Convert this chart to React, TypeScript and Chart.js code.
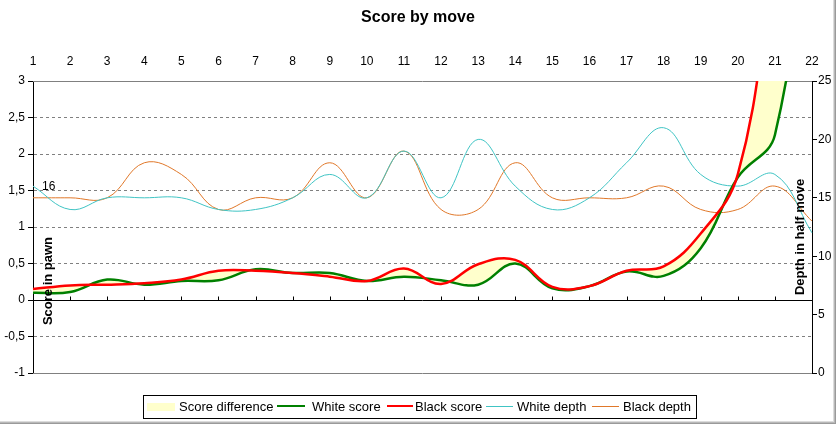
import { useEffect, useRef } from "react";
import { Chart, registerables } from "chart.js";

Chart.register(...registerables);

const FONT = "Arial, 'Liberation Sans', sans-serif";

// one entry per move
const moves = ["1", "2", "3", "4", "5", "6", "7", "8", "9", "10", "11", "12", "13", "14", "15", "16", "17", "18", "19", "20", "21", "22"];
const whiteScore = [0.1, 0.11, 0.28, 0.21, 0.26, 0.27, 0.42, 0.37, 0.37, 0.26, 0.32, 0.27, 0.21, 0.5, 0.16, 0.19, 0.39, 0.33, 0.71, 1.68, 2.26, 6];
const blackScore = [0.15, 0.2, 0.21, 0.23, 0.28, 0.4, 0.4, 0.37, 0.32, 0.26, 0.43, 0.22, 0.49, 0.55, 0.18, 0.19, 0.4, 0.46, 0.91, 1.72, 4.6, 7];
const whiteDepth = [16, 14, 15, 15, 15, 14, 14, 15, 17, 15, 19, 15, 20, 16, 14, 15, 18, 21, 17, 16, 17, 12];
const blackDepth = [15, 15, 15, 18, 17, 14, 15, 15, 18, 15, 19, 14, 14, 18, 15, 15, 15, 16, 14, 14, 16, 13];

const GREEN = "#008000";
const RED = "#FF0000";
const CYAN = "#40C4C4";
const ORANGE = "#E0782A";
const DIFF = "#FFFFCC";

const decor = {
  id: "decor",
  beforeDatasetsDraw(chart: Chart) {
    const { ctx, chartArea: a, scales } = chart;
    const y0 = Math.round(scales.y.getPixelForValue(0)) + 0.5;
    ctx.save();
    ctx.lineWidth = 1;
    ctx.strokeStyle = "#808080";
    ctx.beginPath();
    ctx.moveTo(a.left, Math.floor(a.top) + 0.5);
    ctx.lineTo(a.right, Math.floor(a.top) + 0.5);
    ctx.moveTo(a.left, Math.floor(a.bottom) + 0.5);
    ctx.lineTo(a.right, Math.floor(a.bottom) + 0.5);
    ctx.stroke();
    ctx.strokeStyle = "#000";
    ctx.beginPath();
    ctx.moveTo(a.left, y0);
    ctx.lineTo(a.right, y0);
    for (let i = 1; i < moves.length - 1; i++) {
      const x = Math.round(scales.x.getPixelForValue(i)) + 0.5;
      ctx.moveTo(x, y0 - 4);
      ctx.lineTo(x, y0);
    }
    ctx.stroke();
    ctx.restore();
  },
  afterDatasetsDraw(chart: Chart) {
    const { ctx, chartArea: a } = chart;
    const h = a.bottom - a.top;
    ctx.save();
    ctx.fillStyle = "#000";
    ctx.font = `bold 13px ${FONT}`;
    ctx.textAlign = "center";
    ctx.textBaseline = "middle";
    ctx.translate(a.left + 15, a.top + h * 0.685);
    ctx.rotate(-Math.PI / 2);
    ctx.fillText("Score in pawn", 0, 0);
    ctx.restore();

    ctx.save();
    ctx.fillStyle = "#000";
    ctx.font = `bold 13px ${FONT}`;
    ctx.textAlign = "center";
    ctx.textBaseline = "middle";
    ctx.translate(a.right - 12, a.top + h * 0.534);
    ctx.rotate(-Math.PI / 2);
    ctx.fillText("Depth in half move", 0, 0);
    ctx.restore();

    const p = chart.getDatasetMeta(3).data[0];
    ctx.save();
    ctx.fillStyle = "#000";
    ctx.font = `12px ${FONT}`;
    ctx.textAlign = "left";
    ctx.textBaseline = "middle";
    ctx.fillText(String(whiteDepth[0]), p.x + 9, p.y + 1);
    ctx.restore();
  },
};

const legendItems = [
  { label: "Score difference", kind: "rect", color: DIFF, x: 147, w: 28, textX: 179 },
  { label: "White score", kind: "line", color: GREEN, x: 277, w: 28, textX: 312, thick: 2 },
  { label: "Black score", kind: "line", color: RED, x: 387, w: 26, textX: 415, thick: 2 },
  { label: "White depth", kind: "line", color: CYAN, x: 486, w: 27, textX: 517, thick: 1 },
  { label: "Black depth", kind: "line", color: ORANGE, x: 592, w: 27, textX: 623, thick: 1 },
];

export default function App() {
  const canvasRef = useRef<HTMLCanvasElement | null>(null);

  useEffect(() => {
    document.body.style.margin = "0";
    if (!canvasRef.current) return;
    const chart = new Chart(canvasRef.current, {
      type: "line",
      data: {
        labels: moves,
        datasets: [
          {
            label: "Score difference",
            data: blackScore,
            yAxisID: "y",
            borderWidth: 0,
            borderColor: "transparent",
            backgroundColor: DIFF,
            fill: 1,
            order: 3,
          },
          {
            label: "White score",
            data: whiteScore,
            yAxisID: "y",
            borderColor: GREEN,
            borderWidth: 2.5,
            fill: false,
            order: 2,
          },
          {
            label: "Black score",
            data: blackScore,
            yAxisID: "y",
            borderColor: RED,
            borderWidth: 2.5,
            fill: false,
            order: 1,
          },
          {
            label: "White depth",
            data: whiteDepth,
            yAxisID: "y1",
            borderColor: CYAN,
            borderWidth: 1,
            fill: false,
            order: 4,
          },
          {
            label: "Black depth",
            data: blackDepth,
            yAxisID: "y1",
            borderColor: ORANGE,
            borderWidth: 1,
            fill: false,
            order: 5,
          },
        ],
      },
      options: {
        animation: false,
        responsive: true,
        maintainAspectRatio: false,
        layout: { padding: { left: 0, right: 0, top: 0, bottom: 51 } },
        elements: {
          point: { radius: 0 },
          line: { tension: 0.4, capBezierPoints: false },
        },
        plugins: {
          legend: { display: false },
          tooltip: { enabled: false },
          title: {
            display: true,
            text: "Score by move",
            color: "#000",
            font: { family: FONT, size: 16, weight: "bold" },
            padding: { top: 8, bottom: 0 },
          },
        },
        scales: {
          x: {
            type: "category",
            position: "top",
            offset: false,
            grid: { display: false, drawTicks: false },
            border: { display: false },
            ticks: {
              color: "#000",
              font: { family: FONT, size: 12 },
              padding: 12,
              maxRotation: 0,
              autoSkip: false,
            },
            afterFit: (s: any) => {
              s.height = 53.8;
            },
          },
          y: {
            type: "linear",
            position: "left",
            min: -1,
            max: 3,
            ticks: {
              stepSize: 0.5,
              color: "#000",
              font: { family: FONT, size: 12 },
              padding: 3,
              callback: (v: any) => String(v).replace(".", ","),
            },
            grid: {
              color: (c: any) => {
                const v = c.tick?.value;
                return v === 0 || v === 3 || v === -1 ? "transparent" : "#808080";
              },
              lineWidth: 1,
              drawTicks: true,
              tickLength: 5,
              tickColor: "#000",
            },
            border: { color: "#000", width: 1, dash: [3, 3] },
            afterFit: (s: any) => {
              s.width = 33;
            },
          },
          y1: {
            type: "linear",
            position: "right",
            min: 0,
            max: 25,
            ticks: {
              stepSize: 5,
              color: "#000",
              font: { family: FONT, size: 12 },
              padding: 1,
            },
            grid: {
              drawOnChartArea: false,
              drawTicks: true,
              tickLength: 5,
              tickColor: "#000",
            },
            border: { color: "#000", width: 1 },
            afterFit: (s: any) => {
              s.width = 24;
            },
          },
        },
      },
      plugins: [decor],
    });
    return () => chart.destroy();
  }, []);

  return (
    <div style={{ position: "relative", width: 836, height: 424, background: "#fff", fontFamily: FONT }}>
      <div style={{ position: "absolute", left: 0, top: 0, width: 836, height: 424 }}>
        <canvas ref={canvasRef} />
      </div>
      <div
        style={{
          position: "absolute",
          left: 143,
          top: 395,
          width: 554,
          height: 24,
          boxSizing: "border-box",
          border: "1px solid #000",
        }}
      />
      {legendItems.map((it) => (
        <div key={it.label}>
          {it.kind === "rect" ? (
            <div style={{ position: "absolute", left: it.x, top: 403, width: it.w, height: 8, background: it.color }} />
          ) : (
            <div
              style={{
                position: "absolute",
                left: it.x,
                top: it.thick === 2 ? 405 : 406,
                width: it.w,
                height: it.thick,
                background: it.color,
              }}
            />
          )}
          <div
            style={{
              position: "absolute",
              left: it.textX,
              top: 399,
              fontSize: 13,
              lineHeight: "15px",
              color: "#000",
              whiteSpace: "nowrap",
            }}
          >
            {it.label}
          </div>
        </div>
      ))}
      <div
        style={{
          position: "absolute",
          left: 0,
          top: 0,
          width: 836,
          height: 424,
          pointerEvents: "none",
          boxShadow: "inset -1px -1px 0 #9a9a9a, inset -2px -2px 0 #b8b8b8, inset -3px -3px 0 #dcdcdc",
        }}
      />
    </div>
  );
}
